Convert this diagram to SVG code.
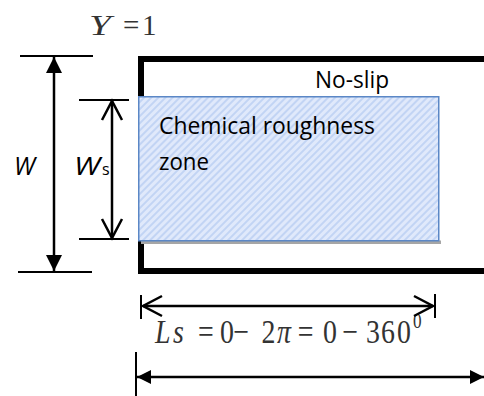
<svg xmlns="http://www.w3.org/2000/svg" width="484" height="396" viewBox="0 0 484 396">
<style>
.dim{stroke:#000;stroke-width:2.5;fill:none}
.tick{stroke:#000;stroke-width:2;fill:none}
.sans{font-family:"Open Sans","Liberation Sans",sans-serif;fill:#000}
.serif{font-family:"Liberation Serif","DejaVu Serif",serif;fill:#333}
</style>
<defs>
<pattern id="hatch" patternUnits="userSpaceOnUse" width="5" height="5" patternTransform="rotate(45)">
<rect width="5" height="5" fill="#e0e9fb"/>
<rect width="2" height="5" fill="#c2d4f4"/>
</pattern>
<marker id="fillBig" markerUnits="userSpaceOnUse" markerWidth="16" markerHeight="16" viewBox="0 0 16 16" refX="16" refY="8" orient="auto-start-reverse">
<path d="M0,0 L16,8 L0,16 z" fill="#000"/>
</marker>
<marker id="fillSmall" markerUnits="userSpaceOnUse" markerWidth="14" markerHeight="14" viewBox="0 0 14 14" refX="14" refY="7" orient="auto-start-reverse">
<path d="M0,0 L14,7 L0,14 z" fill="#000"/>
</marker>
<marker id="open" markerUnits="userSpaceOnUse" markerWidth="24" markerHeight="24" viewBox="0 0 24 24" refX="21" refY="12" orient="auto-start-reverse">
<path d="M2,2 L21,12 L2,22" fill="none" stroke="#000" stroke-width="2.5"/>
</marker>
</defs>
<rect width="484" height="396" fill="#fff"/>

<g id="label-Y">
<text class="serif" x="89" y="35" font-size="29" font-style="italic" textLength="22" lengthAdjust="spacingAndGlyphs">Y</text>
<text class="serif" y="35" font-size="29"><tspan x="123">=</tspan><tspan x="142">1</tspan></text>
</g>

<g id="channel">
<path d="M484,59 H141 V271 H484" fill="none" stroke="#000" stroke-width="6" stroke-linejoin="miter"/>
<text class="sans" x="315" y="88" font-size="23" textLength="74" lengthAdjust="spacingAndGlyphs">No-slip</text>
</g>

<g id="roughness-zone">
<rect x="141" y="240.5" width="300" height="3.5" fill="#a6a6a6"/>
<rect x="138.75" y="96.75" width="300" height="144" fill="url(#hatch)" stroke="#5b87c6" stroke-width="1.5"/>
<text class="sans" x="159" y="134" font-size="24" textLength="216" lengthAdjust="spacingAndGlyphs">Chemical roughness</text>
<text class="sans" x="159" y="170" font-size="24" textLength="50" lengthAdjust="spacingAndGlyphs">zone</text>
</g>

<g id="label-W">
<text class="sans" x="14" y="175" font-size="25" font-style="italic" textLength="21" lengthAdjust="spacingAndGlyphs">W</text>
</g>
<g id="label-Ws">
<text class="sans" x="74" y="175" font-size="25" font-style="italic" textLength="26" lengthAdjust="spacingAndGlyphs">W</text>
<text class="sans" x="102" y="175" font-size="16">s</text>
</g>

<g id="label-Ls">
<text class="serif" transform="translate(155,343) scale(0.82,1)" font-size="34"><tspan x="0" font-style="italic">L</tspan><tspan x="21.95" font-style="italic">s</tspan><tspan x="52.4">=</tspan><tspan x="79.3">0</tspan><tspan x="95.1">−</tspan><tspan x="130">2</tspan><tspan x="148.8" font-style="italic">π</tspan><tspan x="174">=</tspan><tspan x="204.9">0</tspan><tspan x="228">−</tspan><tspan x="257.3">3</tspan><tspan x="275.6">6</tspan><tspan x="295.1">0</tspan><tspan x="314.6" y="-15" font-size="21">0</tspan></text>
</g>

<g id="connectors">
<line class="tick" x1="20" y1="56" x2="93" y2="56"/>
<line class="tick" x1="18" y1="272" x2="92" y2="272"/>
<line class="dim" x1="54" y1="57" x2="54" y2="271" marker-start="url(#fillBig)" marker-end="url(#fillBig)"/>

<line class="tick" x1="79" y1="100" x2="129" y2="100"/>
<line class="tick" x1="79" y1="239" x2="129" y2="239"/>
<line class="dim" x1="112" y1="101" x2="112" y2="238" marker-start="url(#open)" marker-end="url(#open)"/>

<line class="tick" x1="141" y1="295" x2="141" y2="319"/>
<line class="tick" x1="435" y1="294" x2="435" y2="318"/>
<line class="dim" x1="143" y1="306" x2="433" y2="306" marker-start="url(#open)" marker-end="url(#open)"/>

<line class="tick" x1="136" y1="352" x2="136" y2="396"/>
<line class="dim" x1="137" y1="377" x2="484" y2="377" stroke-width="3" marker-start="url(#fillSmall)" marker-end="url(#fillSmall)"/>
</g>
</svg>
